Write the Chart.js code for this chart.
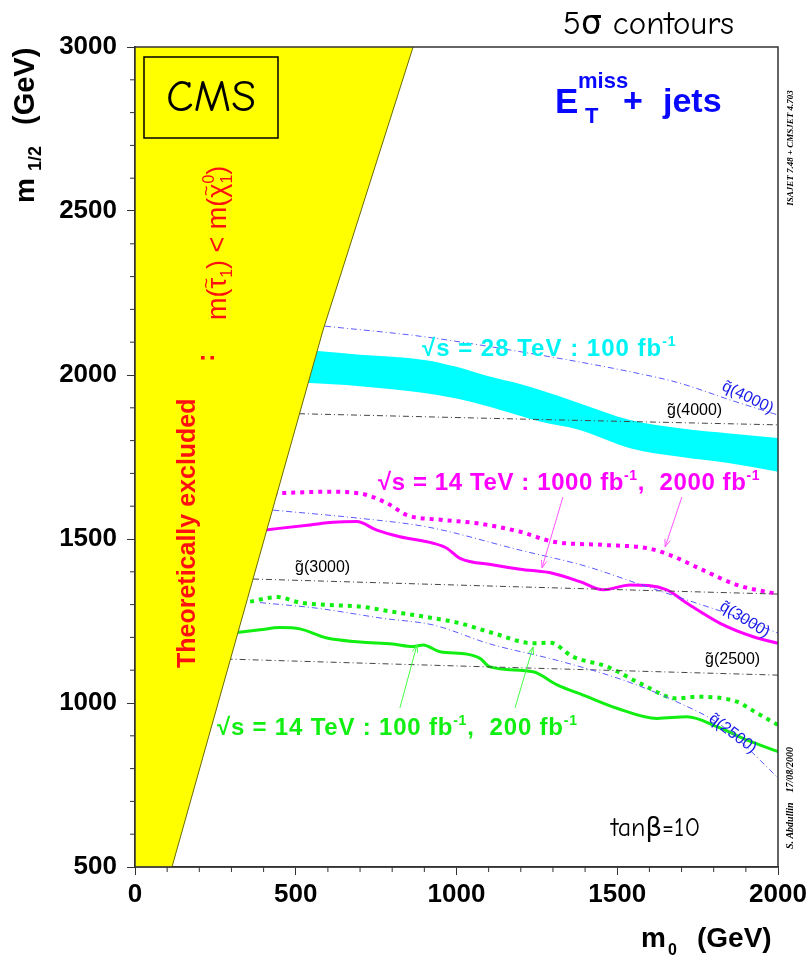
<!DOCTYPE html>
<html>
<head>
<meta charset="utf-8">
<script src="https://cdn.jsdelivr.net/npm/chart.js@4.4.1/dist/chart.umd.min.js"></script>
<style>
html, body { margin: 0; padding: 0; background: #fff; }
#wrap { width: 812px; height: 956px; position: relative; }
</style>
</head>
<body>
<div id="wrap"><canvas id="chart"></canvas></div>
<script>
// m0 (GeV) on x, m1/2 (GeV) on y
var xTicks = [0, 500, 1000, 1500, 2000];
var yTicks = [500, 1000, 1500, 2000, 2500, 3000];

// theoretically excluded region (left of this boundary)
var exclX = [0, 115, 585, 865];
var exclY = [500, 500, 2137, 3000];

// sqrt(s) = 28 TeV, 100 fb-1 band
var bandX  = [530, 700, 900, 1000, 1100, 1200, 1260, 1380, 1540, 1700, 1850, 2000];
var bandHi = [2076, 2062, 2046, 2025, 1996, 1972, 1954, 1915, 1863, 1837, 1822, 1808];
var bandLo = [1976, 1966, 1945, 1928, 1904, 1875, 1858, 1833, 1777, 1750, 1731, 1705];

// sqrt(s) = 14 TeV, 2000 fb-1 (dotted magenta)
var mag2000X = [430, 597, 700, 784, 846, 958, 1064, 1198, 1300, 1456, 1593, 1664, 1767, 1872, 2000];
var mag2000Y = [1639, 1644, 1639, 1609, 1573, 1558, 1548, 1522, 1492, 1482, 1472, 1451, 1405, 1360, 1332];

// sqrt(s) = 14 TeV, 1000 fb-1 (solid magenta)
var mag1000X = [399, 544, 617, 690, 752, 824, 928, 970, 1011, 1115, 1198, 1301, 1384, 1457, 1540, 1654, 1717, 1820, 1923, 2000];
var mag1000Y = [1527, 1543, 1551, 1553, 1527, 1507, 1487, 1472, 1441, 1421, 1408, 1395, 1370, 1345, 1360, 1345, 1304, 1243, 1202, 1182];

// sqrt(s) = 14 TeV, 200 fb-1 (dotted green)
var grn200X = [358, 442, 513, 597, 700, 802, 908, 1011, 1114, 1238, 1291, 1362, 1468, 1571, 1686, 1748, 1872, 1935, 2000];
var grn200Y = [1309, 1323, 1306, 1299, 1294, 1278, 1262, 1243, 1213, 1182, 1184, 1141, 1111, 1060, 1014, 1019, 1004, 969, 933];

// sqrt(s) = 14 TeV, 100 fb-1 (solid green)
var grn100X = [311, 389, 451, 513, 597, 700, 802, 865, 896, 949, 1032, 1073, 1104, 1238, 1313, 1394, 1499, 1624, 1717, 1810, 1904, 2000];
var grn100Y = [1214, 1223, 1230, 1226, 1198, 1186, 1180, 1172, 1177, 1156, 1149, 1136, 1110, 1095, 1055, 1024, 984, 953, 958, 928, 887, 852];

// squark / gluino iso-mass lines
var sq4000X = [591, 896, 1229, 1540, 1695, 1851, 2000];
var sq4000Y = [2149, 2117, 2066, 2010, 1975, 1924, 1878];
var gl4000X = [510, 1230, 2000];
var gl4000Y = [1882, 1865, 1848];
var sq3000X = [430, 700, 908, 1198, 1406, 1561, 1717, 1872, 2000];
var sq3000Y = [1588, 1563, 1537, 1466, 1416, 1365, 1314, 1263, 1213];
var gl3000X = [367, 1198, 2000];
var gl3000Y = [1378, 1354, 1332];
var sq2500X = [389, 566, 772, 927, 1104, 1313, 1518, 1673, 1829, 1984, 2000];
var sq2500Y = [1306, 1289, 1258, 1238, 1180, 1130, 1070, 1009, 928, 787, 771];
var gl2500X = [285, 1104, 2000];
var gl2500Y = [1134, 1110, 1085];

function pts(xs, ys) {
    return xs.map(function (x, i) { return { x: x, y: ys[i] }; });
}

var SANS = '"Liberation Sans", Arial, Helvetica, sans-serif';
var COMIC = '"Comic Sans MS", "Comic Neue", "DejaVu Sans", sans-serif';

function curve(xs, ys, color, width, dash, order) {
    return {
        data: pts(xs, ys), borderColor: color, borderWidth: width, borderDash: dash,
        pointRadius: 0, cubicInterpolationMode: 'monotone', fill: false, order: order
    };
}

function refLine(xs, ys, color) {
    return curve(xs, ys, color, 1, [6, 3, 1, 3], 1);
}

// draw a run of text pieces (sub/superscripts, tildes) along a baseline
function rich(ctx, x, y, parts, align) {
    var w = 0;
    parts.forEach(function (p) {
        if (p.gap) { w += p.gap; return; }
        ctx.font = p.f;
        p.w = p.back ? 0 : ctx.measureText(p.t).width;
        w += p.w;
    });
    var cx = align === 'center' ? x - w / 2 : (align === 'right' ? x - w : x);
    parts.forEach(function (p) {
        if (p.gap) { cx += p.gap; return; }
        ctx.font = p.f;
        ctx.fillText(p.t, cx, y + (p.dy || 0));
        if (p.tilde) {
            var cw = ctx.measureText(p.t).width;
            ctx.font = p.tilde;
            var tw = ctx.measureText('~').width;
            ctx.fillText('~', cx + (cw - tw) / 2, y - 14);
        }
        cx += p.w;
    });
}

function arrow(ctx, x1, y1, x2, y2, color) {
    var ang = Math.atan2(y2 - y1, x2 - x1), L = 8;
    ctx.strokeStyle = color; ctx.lineWidth = 1;
    ctx.beginPath();
    ctx.moveTo(x1, y1); ctx.lineTo(x2, y2);
    ctx.moveTo(x2 - L * Math.cos(ang - 0.35), y2 - L * Math.sin(ang - 0.35));
    ctx.lineTo(x2, y2);
    ctx.lineTo(x2 - L * Math.cos(ang + 0.35), y2 - L * Math.sin(ang + 0.35));
    ctx.stroke();
}

var overlay = {
    id: 'overlay',
    afterDraw: function (chart) {
        var ctx = chart.ctx, a = chart.chartArea;
        var sx = chart.scales.x, sy = chart.scales.y;
        var X = function (v) { return sx.getPixelForValue(v); };
        var Y = function (v) { return sy.getPixelForValue(v); };
        ctx.save();

        // minor ticks + frame
        ctx.strokeStyle = '#333'; ctx.lineWidth = 1;
        ctx.beginPath();
        for (var v = 100; v < 2000; v += 100) {
            if (v % 500) { ctx.moveTo(X(v), a.bottom); ctx.lineTo(X(v), a.bottom + 5); }
        }
        for (v = 600; v < 3000; v += 100) {
            if (v % 500) { ctx.moveTo(a.left - 5, Y(v)); ctx.lineTo(a.left, Y(v)); }
        }
        ctx.stroke();
        ctx.lineWidth = 1.5;
        ctx.strokeRect(a.left, a.top, a.right - a.left, a.bottom - a.top);

        ctx.textAlign = 'left'; ctx.textBaseline = 'alphabetic';

        // CMS box
        ctx.strokeStyle = '#000'; ctx.lineWidth = 1.5;
        ctx.strokeRect(144, 57, 134, 81);
        ctx.fillStyle = '#000';
        ctx.font = '45px ' + COMIC;
        ctx.textAlign = 'center';
        ctx.fillText('CMS', 211, 111);
        ctx.textAlign = 'left';

        // top / bottom notes
        ctx.font = '33px ' + COMIC;
        ctx.fillText('5\u03c3 contours', 563, 34);
        ctx.font = '26px ' + COMIC;
        ctx.fillText('tan\u03b2=10', 611, 836);

        // E_T^miss + jets
        ctx.fillStyle = '#0808ff';
        ctx.font = 'bold 35px ' + SANS; ctx.fillText('E', 555, 113);
        ctx.font = 'bold 22px ' + SANS; ctx.fillText('miss', 578, 88);
        ctx.fillText('T', 585, 123);
        ctx.font = 'bold 34px ' + SANS; ctx.fillText('+', 623, 112);
        ctx.fillText('jets', 663, 112);

        // contour labels
        var big = 'bold 24px ' + SANS, sup = 'bold 14px ' + SANS;
        ctx.fillStyle = '#00f4f4';
        ctx.letterSpacing = '1px';
        rich(ctx, 422, 356, [{ t: '\u221as = 28 TeV : 100 fb', f: big }, { t: '-1', f: sup, dy: -10 }]);
        ctx.letterSpacing = '0.6px';
        ctx.fillStyle = '#ff00ff';
        rich(ctx, 378, 490, [{ t: '\u221as = 14 TeV : 1000 fb', f: big }, { t: '-1', f: sup, dy: -10 },
            { t: ',  2000 fb', f: big }, { t: '-1', f: sup, dy: -10 }]);
        ctx.letterSpacing = '0.8px';
        ctx.fillStyle = '#11ee11';
        rich(ctx, 217, 735, [{ t: '\u221as = 14 TeV : 100 fb', f: big }, { t: '-1', f: sup, dy: -10 },
            { t: ',  200 fb', f: big }, { t: '-1', f: sup, dy: -10 }]);
        ctx.letterSpacing = '0px';

        arrow(ctx, X(1331), Y(1628), X(1266), Y(1412), '#ff55ff');
        arrow(ctx, X(1701), Y(1628), X(1649), Y(1476), '#ff55ff');
        arrow(ctx, X(824), Y(985), X(877), Y(1177), '#44ff44');
        arrow(ctx, X(1182), Y(985), X(1238), Y(1171), '#44ff44');

        // iso-mass line labels
        ctx.fillStyle = '#000';
        ctx.font = '16px ' + SANS;
        ctx.fillText('g\u0303(4000)', 667, 415);
        ctx.fillText('g\u0303(3000)', 295, 572);
        ctx.fillText('g\u0303(2500)', 705, 664);
        ctx.fillStyle = '#1818e8';
        [['q\u0303(4000)', 748, 397, 26], ['q\u0303(3000)', 745, 619, 31], ['q\u0303(2500)', 733, 733, 37]].forEach(function (q) {
            ctx.save();
            ctx.translate(q[1], q[2]);
            ctx.rotate(q[3] * Math.PI / 180);
            ctx.textAlign = 'center';
            ctx.fillText(q[0], 0, 5);
            ctx.restore();
        });

        // theoretically excluded label
        ctx.fillStyle = '#ff1010';
        ctx.save();
        ctx.translate(195, 668); ctx.rotate(-Math.PI / 2);
        ctx.font = 'bold 25px ' + SANS;
        ctx.fillText('Theoretically excluded', 0, 0);
        ctx.restore();
        ctx.save();
        ctx.translate(214, 362); ctx.rotate(-Math.PI / 2);
        ctx.font = 'bold 25px ' + SANS;
        ctx.fillText(':', 0, 0);
        ctx.restore();
        ctx.save();
        ctx.translate(226, 320); ctx.rotate(-Math.PI / 2);
        var rf = '27px ' + SANS, rs = '16px ' + SANS, rt = '18px ' + SANS;
        rich(ctx, 0, 0, [{ t: 'm(', f: rf }, { t: '\u03c4', f: rf, tilde: rt }, { t: '1', f: rs, dy: 6 },
            { t: ') < m(', f: rf }, { t: '\u03c7', f: rf, tilde: rt },
            { t: '0', f: rs, dy: -12, back: true }, { t: '1', f: rs, dy: 6 }, { t: ')', f: rf }]);
        ctx.restore();

        // axis titles
        ctx.fillStyle = '#000';
        ctx.save();
        ctx.translate(34, 203); ctx.rotate(-Math.PI / 2);
        ctx.font = 'bold 28px ' + SANS; ctx.fillText('m', 0, 0);
        ctx.font = 'bold 18px ' + SANS; ctx.fillText('1/2', 32, 7);
        ctx.font = 'bold 29px ' + SANS; ctx.fillText('(GeV)', 78, 0);
        ctx.restore();
        ctx.font = 'bold 28px ' + SANS; ctx.fillText('m', 641, 947);
        ctx.font = 'bold 16px ' + SANS; ctx.fillText('0', 668, 955);
        ctx.font = 'bold 28px ' + SANS; ctx.fillText('(GeV)', 697, 947);

        // small side notes
        ctx.textAlign = 'center';
        ctx.font = 'italic bold 9px "Liberation Serif", serif';
        ctx.save(); ctx.translate(793, 148); ctx.rotate(-Math.PI / 2);
        ctx.fillText('ISAJET 7.48 + CMSJET 4.703', 0, 0); ctx.restore();
        ctx.font = 'italic bold 10px "Liberation Serif", serif';
        ctx.save(); ctx.translate(793, 798); ctx.rotate(-Math.PI / 2);
        ctx.fillText('S. Abdullin    17/08/2000', 0, 0); ctx.restore();

        ctx.restore();
    }
};

var ctx = document.getElementById('chart').getContext('2d');
var chart = new Chart(ctx, {
    type: 'line',
    data: {
        datasets: [
            {
                data: pts(exclX, exclY), borderColor: '#6b6b00', borderWidth: 1,
                backgroundColor: '#ffff00', fill: 'end', pointRadius: 0, tension: 0, order: 0
            },
            {
                data: pts(bandX, bandHi), borderWidth: 0, borderColor: 'rgba(0,0,0,0)',
                backgroundColor: '#00ffff', fill: '+1', pointRadius: 0,
                cubicInterpolationMode: 'monotone', order: 3
            },
            {
                data: pts(bandX, bandLo), borderWidth: 0, borderColor: 'rgba(0,0,0,0)',
                fill: false, pointRadius: 0, cubicInterpolationMode: 'monotone', order: 3
            },
            refLine(sq4000X, sq4000Y, '#5a5aff'),
            refLine(gl4000X, gl4000Y, '#444'),
            refLine(sq3000X, sq3000Y, '#5a5aff'),
            refLine(gl3000X, gl3000Y, '#444'),
            refLine(sq2500X, sq2500Y, '#5a5aff'),
            refLine(gl2500X, gl2500Y, '#444'),
            curve(mag2000X, mag2000Y, '#ff00ff', 4, [4, 5], 2),
            curve(mag1000X, mag1000Y, '#ff00ff', 3, [], 2),
            curve(grn200X, grn200Y, '#11ee11', 4, [4, 5], 2),
            curve(grn100X, grn100Y, '#11ee11', 3, [], 2)
        ]
    },
    options: {
        responsive: true,
        maintainAspectRatio: false,
        animation: false,
        layout: { padding: { top: 47, right: 34, left: 0, bottom: 0 } },
        plugins: { legend: { display: false }, tooltip: { enabled: false } },
        scales: {
            x: {
                type: 'linear', min: 0, max: 2000,
                afterBuildTicks: function (s) { s.ticks = xTicks.map(function (v) { return { value: v }; }); },
                afterFit: function (s) { s.height = 89; },
                ticks: {
                    color: '#000', padding: 4, maxRotation: 0,
                    font: { family: SANS, size: 26, weight: 'bold' },
                    callback: function (v) { return String(v); }
                },
                grid: { drawOnChartArea: false, tickLength: 8, color: '#333' },
                border: { display: true, color: '#333', width: 1.5 }
            },
            y: {
                type: 'linear', min: 500, max: 3000,
                afterBuildTicks: function (s) { s.ticks = yTicks.map(function (v) { return { value: v }; }); },
                afterFit: function (s) { s.width = 135; },
                ticks: {
                    color: '#000', padding: 10,
                    font: { family: SANS, size: 26, weight: 'bold' },
                    callback: function (v) { return String(v); }
                },
                grid: { drawOnChartArea: false, tickLength: 8, color: '#333' },
                border: { display: true, color: '#333', width: 1.5 }
            }
        }
    },
    plugins: [overlay]
});
</script>
</body>
</html>
